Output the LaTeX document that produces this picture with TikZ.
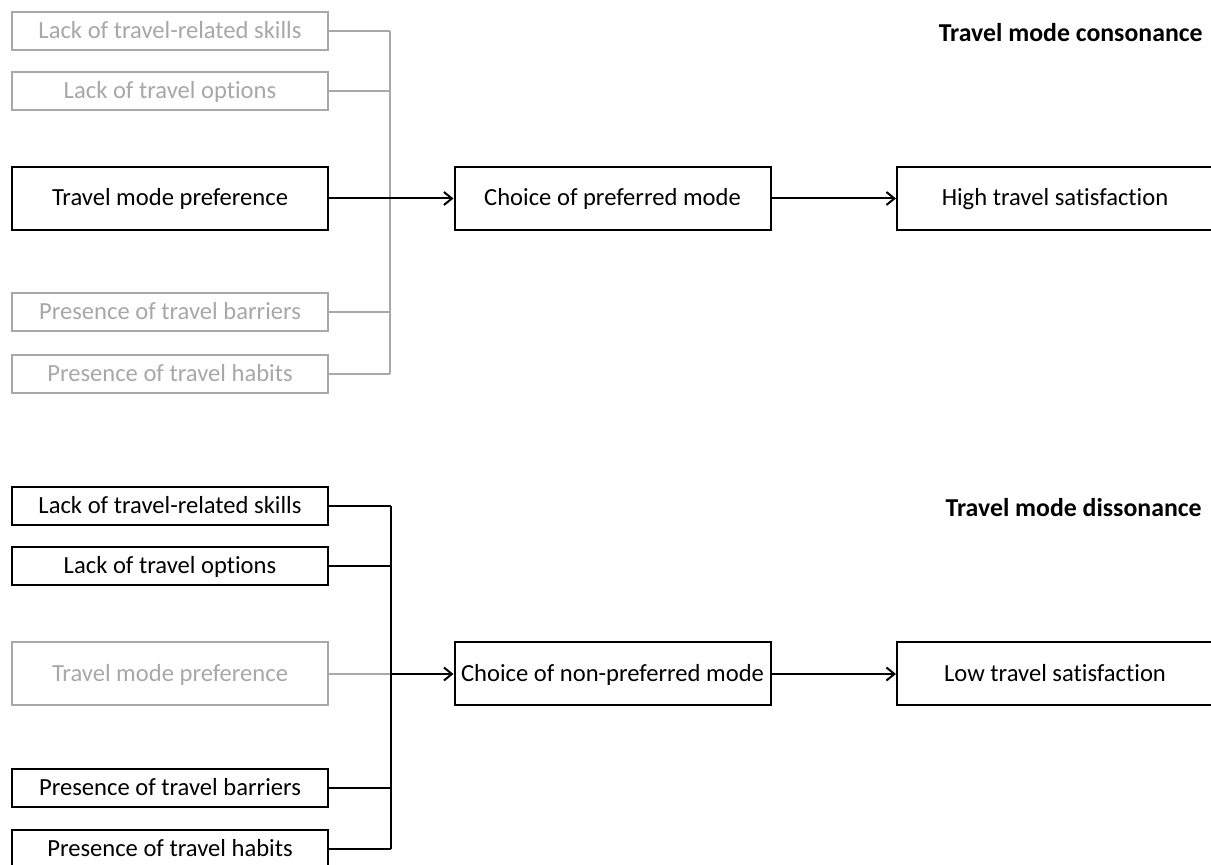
\documentclass[tikz,border=0pt]{standalone}
\usepackage{fontspec}
\setmainfont{Carlito}[Ligatures=NoCommon]
\usetikzlibrary{arrows.meta}
\definecolor{lgray}{RGB}{168,168,168}
\begin{document}
\begin{tikzpicture}[x=0.5pt,y=-0.5pt,
  font=\fontsize{12.3}{14}\selectfont,
  box/.style={draw=black,line width=1pt,fill=white,inner sep=0pt,minimum width=158pt,text=black,
    text height=9.8pt,text depth=2.3pt},
  smallbox/.style={box,minimum height=19pt},
  bigbox/.style={box,minimum height=31.5pt},
  graybox/.style={draw=lgray,text=lgray},
  bl/.style={draw=black,line width=1pt},
  gl/.style={draw=lgray,line width=1pt},
  arr/.style={-{Straight Barb[length=4pt,width=6.5pt,line width=1pt]}},
  title/.style={font=\fontsize{12.9}{14}\selectfont\bfseries,anchor=east,inner sep=0pt}
]
\useasboundingbox (0,0) rectangle (1211,865);

% ---------- top: consonance ----------
\node[title] (ttitle) at (1203,33) {Travel mode consonance};
\node[smallbox,graybox] (t1) at (170,31) {Lack of travel-related skills};
\node[smallbox,graybox] (t2) at (170,91) {Lack of travel options};
\node[bigbox] (t3) at (170,198.5) {Travel mode preference};
\node[smallbox,graybox] (t4) at (170,312.5) {Presence of travel barriers};
\node[smallbox,graybox] (t5) at (170,374) {Presence of travel habits};
\node[bigbox] (tc) at (612.5,198.5) {Choice of preferred mode};
\node[bigbox] (ts) at (1055,198.5) {High travel satisfaction};
\coordinate (tbus) at (390,0);

\draw[gl] (t1.east) -- (t1.east -| tbus);
\draw[gl] (t2.east) -- (t2.east -| tbus);
\draw[gl] (t4.east) -- (t4.east -| tbus);
\draw[gl] (t5.east) -- (t5.east -| tbus);
\draw[gl] (t1.east -| tbus) -- (t5.east -| tbus);
\draw[bl,arr] (t3.east) -- (tc.west);
\draw[bl,arr] (tc.east) -- (ts.west);

% ---------- bottom: dissonance ----------
\node[title] (btitle) at (1202,508) {Travel mode dissonance};
\node[smallbox] (b1) at (170,506) {Lack of travel-related skills};
\node[smallbox] (b2) at (170,566) {Lack of travel options};
\node[bigbox,graybox] (b3) at (170,674) {Travel mode preference};
\node[smallbox] (b4) at (170,788) {Presence of travel barriers};
\node[smallbox] (b5) at (170,849) {Presence of travel habits};
\node[bigbox] (bc) at (612.5,674) {Choice of non-preferred mode};
\node[bigbox] (bs) at (1055,674) {Low travel satisfaction};
\coordinate (bbus) at (391,0);

\draw[gl] (b3.east) -- (b3.east -| bbus);
\draw[bl] (b1.east) -- (b1.east -| bbus);
\draw[bl] (b2.east) -- (b2.east -| bbus);
\draw[bl] (b4.east) -- (b4.east -| bbus);
\draw[bl] (b5.east) -- (b5.east -| bbus);
\draw[bl] (b1.east -| bbus) -- (b5.east -| bbus);
\draw[bl,arr] (b3.east -| bbus) -- (bc.west);
\draw[bl,arr] (bc.east) -- (bs.west);
\end{tikzpicture}
\end{document}
